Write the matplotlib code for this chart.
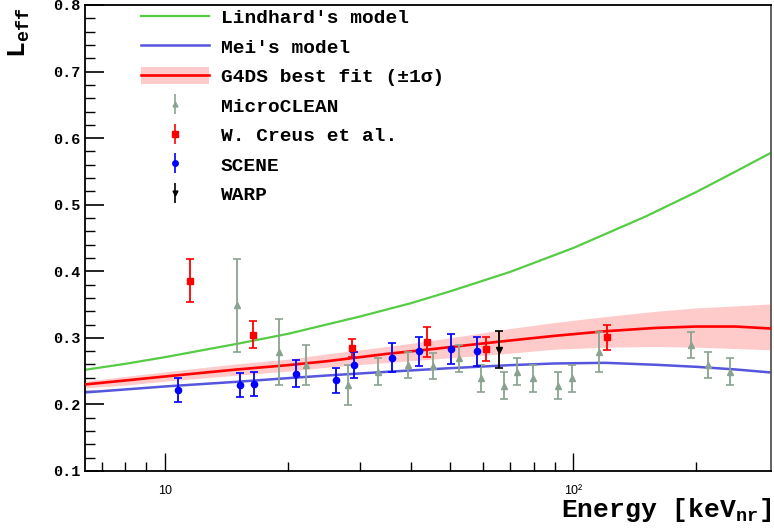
import matplotlib
matplotlib.use("Agg")
import matplotlib.pyplot as plt
from matplotlib.patches import Patch
from matplotlib.lines import Line2D
from matplotlib.ticker import FixedLocator, NullFormatter, MultipleLocator

MONO = ['Liberation Mono', 'DejaVu Sans Mono']
plt.rcParams['font.family'] = MONO
plt.rcParams['font.weight'] = 'bold'
plt.rcParams['mathtext.fontset'] = 'custom'
plt.rcParams['mathtext.rm'] = 'Liberation Mono:bold'
plt.rcParams['mathtext.it'] = 'Liberation Mono:bold'
plt.rcParams['mathtext.bf'] = 'Liberation Mono:bold'

# ---- data ----
lind_E = [6.37, 8, 10, 15, 20, 30, 40, 50, 70, 100, 150, 200, 250, 305]
lind_L = [0.252, 0.261, 0.271, 0.291, 0.306, 0.332, 0.352, 0.370, 0.399, 0.435, 0.482, 0.519, 0.550, 0.578]

mei_E = [6.37, 8, 10, 15, 20, 25, 35, 50, 70, 90, 120, 160, 200, 250, 305]
mei_L = [0.218, 0.2225, 0.227, 0.234, 0.2395, 0.2435, 0.249, 0.2545, 0.259, 0.2615, 0.2625, 0.2595, 0.2565, 0.2525, 0.248]

fit_E = [6.37, 8, 10, 15, 20, 25, 35, 45, 55, 70, 90, 120, 160, 200, 250, 305]
fit_L = [0.230, 0.236, 0.242, 0.2525, 0.259, 0.265, 0.276, 0.283, 0.289, 0.296, 0.303, 0.310, 0.315, 0.317, 0.317, 0.314]
fit_lo = [0.225, 0.229, 0.235, 0.244, 0.250, 0.256, 0.263, 0.268, 0.272, 0.277, 0.283, 0.286, 0.287, 0.286, 0.284, 0.282]
fit_hi = [0.235, 0.242, 0.249, 0.261, 0.268, 0.276, 0.287, 0.296, 0.304, 0.314, 0.323, 0.332, 0.340, 0.345, 0.348, 0.351]

micro_E = [15.0, 19.05, 22.1, 28.1, 33.2, 39.4, 45.4, 52.5, 59.5, 67.6, 72.8, 79.6, 91.8, 99.1, 115.3, 193.9, 214, 242.6]
micro_L = [0.349, 0.279, 0.259, 0.229, 0.249, 0.259, 0.258, 0.269, 0.239, 0.228, 0.249, 0.239, 0.228, 0.239, 0.279, 0.289, 0.259, 0.249]
micro_err = [0.07, 0.05, 0.03, 0.03, 0.02, 0.02, 0.02, 0.02, 0.02, 0.02, 0.02, 0.02, 0.02, 0.02, 0.03, 0.02, 0.02, 0.02]

creus_E = [11.5, 16.4, 28.7, 43.8, 61.1, 121]
creus_L = [0.386, 0.305, 0.285, 0.294, 0.283, 0.301]
creus_err = [0.032, 0.02, 0.014, 0.023, 0.018, 0.019]

scene_E = [10.76, 15.24, 16.5, 20.9, 26.2, 29.1, 35.9, 41.8, 50.3, 58.1]
scene_L = [0.222, 0.229, 0.231, 0.246, 0.236, 0.259, 0.270, 0.280, 0.283, 0.280]
scene_err = [0.018, 0.018, 0.018, 0.02, 0.019, 0.02, 0.022, 0.022, 0.023, 0.022]

warp_E = [65.8]
warp_L = [0.282]
warp_err = [0.028]

labels = ["Lindhard's model", "Mei's model", "G4DS best fit (\u00b11\u03c3)",
          "MicroCLEAN", "W. Creus et al.", "SCENE", "WARP"]
xtick_vals = [10, 100]
xtick_labels = ["10", "10\u00b2"]

# ---- figure ----
fig = plt.figure(figsize=(7.74, 5.28), dpi=100)
ax = fig.add_axes([85/774, 1-471/528, 686/774, 466/528])

GREEN = '#55cc44'
MEIBLUE = '#5555dd'
GRAY = '#8aa391'
PINK = '#ffcaca'

ax.fill_between(fit_E, fit_lo, fit_hi, color=PINK, lw=0, zorder=1)
l_lind, = ax.plot(lind_E, lind_L, color=GREEN, lw=1.6, zorder=2)
l_mei, = ax.plot(mei_E, mei_L, color=MEIBLUE, lw=1.8, zorder=2)
l_fit, = ax.plot(fit_E, fit_L, color='red', lw=1.9, zorder=3)

ekw = dict(elinewidth=1.3, capsize=3, capthick=1.2)
ax.errorbar(micro_E, micro_L, yerr=micro_err, fmt='^', color=GRAY, ms=4, zorder=4, **ekw)
ax.errorbar(creus_E, creus_L, yerr=creus_err, fmt='s', color='red', ms=4.5, zorder=5, **ekw)
ax.errorbar(scene_E, scene_L, yerr=scene_err, fmt='o', color='blue', ms=4.5, zorder=5, **ekw)
ax.errorbar(warp_E, warp_L, yerr=warp_err, fmt='v', color='black', ms=4, zorder=5, **ekw)

ax.set_xscale('log')
ax.set_xlim(6.37, 305)
ax.set_ylim(0.1, 0.8)

ax.xaxis.set_major_locator(FixedLocator(xtick_vals))
ax.set_xticklabels(xtick_labels, family=['Liberation Sans', 'DejaVu Sans'], weight='normal', fontsize=9)
minor_x = [7, 8, 9, 20, 30, 40, 50, 60, 70, 80, 90, 200]
ax.xaxis.set_minor_locator(FixedLocator(minor_x))
ax.xaxis.set_minor_formatter(NullFormatter())
ax.yaxis.set_minor_locator(MultipleLocator(0.02))
ax.set_yticks([0.1, 0.2, 0.3, 0.4, 0.5, 0.6, 0.7, 0.8])
ax.set_yticklabels(['0.1', '0.2', '0.3', '0.4', '0.5', '0.6', '0.7', '0.8'], fontsize=11, weight='bold')

ax.tick_params(axis='y', which='major', direction='in', length=14, width=1.2, pad=3)
ax.tick_params(axis='y', which='minor', direction='in', length=7, width=1.0)
ax.tick_params(axis='x', which='major', direction='in', length=13, width=1.0, pad=10)
ax.tick_params(axis='x', which='minor', direction='in', length=6.5, width=1.0)
ax.tick_params(top=False, right=False, which='both')
for s in ax.spines.values():
    s.set_linewidth(1.3)
ax.spines['right'].set_color('#555555')

ax.set_xlabel('Energy [$\\mathregular{keV_{nr}}$]', fontsize=19, weight='bold', ha='right', va='center')
ax.xaxis.set_label_coords(1.0, -0.084)
ax.set_ylabel('$\\mathregular{L_{eff}}$', fontsize=19, weight='bold', ha='center', va='center')
ax.yaxis.set_label_coords(-0.095, 0.94)

def pt_handle(marker, color, ms):
    return (Line2D([], [], ls='none', marker='|', ms=15, mew=1.2, color=color),
            Line2D([], [], ls='none', marker=marker, ms=ms, color=color))

band_handle = (Patch(facecolor=PINK, edgecolor='none'), Line2D([], [], color='red', lw=1.9))
handles = [l_lind, l_mei, band_handle,
           pt_handle('^', GRAY, 3.5), pt_handle('s', 'red', 4.5),
           pt_handle('o', 'blue', 4), pt_handle('v', 'black', 3.5)]
leg = ax.legend(handles, labels,
                loc='upper left', bbox_to_anchor=(141/774, 1-8/528), bbox_transform=fig.transFigure,
                frameon=False, prop={'family': MONO, 'weight': 'bold', 'size': 14},
                handlelength=3.5, handleheight=1.0, handletextpad=0.6, labelspacing=0.52,
                borderaxespad=0, borderpad=0)

fig.savefig('out.png', dpi=100)
